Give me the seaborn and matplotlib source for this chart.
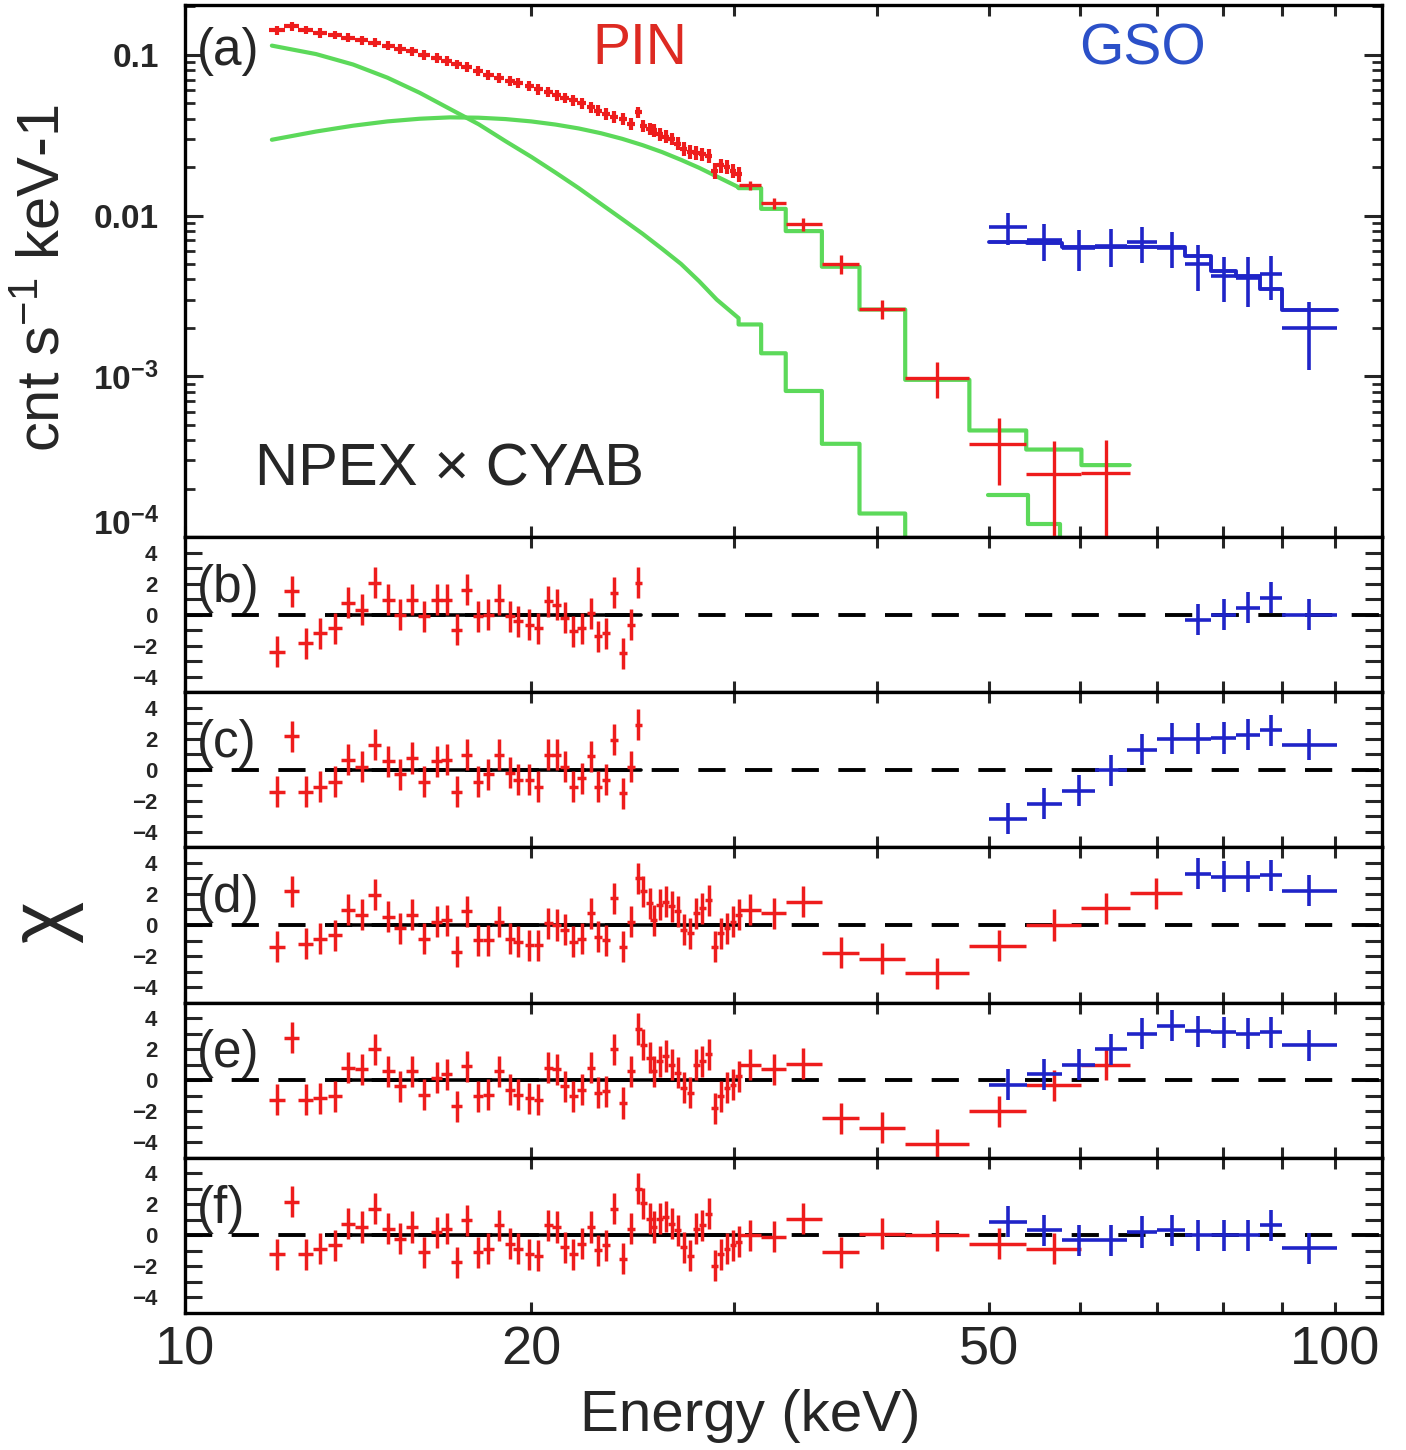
import matplotlib
matplotlib.use("Agg")
import matplotlib.pyplot as plt
import matplotlib.transforms as mtransforms
from matplotlib.ticker import FixedLocator, FixedFormatter, NullLocator, LogLocator, NullFormatter
import seaborn as sns

# ---------------- data ----------------
# PIN fine bins (keV) and panel (a) flux
pin_e = [12.02, 12.38, 12.74, 13.10, 13.50, 13.87, 14.25, 14.63, 15.03, 15.38,
         15.76, 16.14, 16.55, 16.89, 17.23, 17.58, 17.99, 18.36, 18.76, 19.17,
         19.49, 19.93, 20.29, 20.70, 21.05, 21.40, 21.76, 22.13, 22.54, 22.88,
         23.23, 23.61, 24.03, 24.41, 24.79, 25.04, 25.35, 25.56, 25.87, 26.18,
         26.50, 26.83, 27.16, 27.50, 27.83, 28.18, 28.53, 28.88, 29.23, 29.60,
         29.96, 30.30]
pin_flux = [0.142, 0.150, 0.143, 0.137, 0.133, 0.128, 0.123, 0.119, 0.114, 0.109,
            0.105, 0.100, 0.096, 0.092, 0.087, 0.084, 0.079, 0.075, 0.072, 0.069,
            0.067, 0.064, 0.061, 0.059, 0.056, 0.054, 0.052, 0.050, 0.047, 0.045,
            0.043, 0.041, 0.040, 0.037, 0.044, 0.036, 0.0345, 0.034, 0.032, 0.031,
            0.030, 0.028, 0.026, 0.025, 0.0245, 0.024, 0.0235, 0.019, 0.0205, 0.020,
            0.019, 0.018]
pin_flux_err = [0.009, 0.009, 0.009, 0.009, 0.0085, 0.008, 0.008, 0.0075, 0.0075, 0.0072,
                0.007, 0.0068, 0.0065, 0.0063, 0.006, 0.0058, 0.0056, 0.0054, 0.0052, 0.005,
                0.0049, 0.0047, 0.0045, 0.0044, 0.0042, 0.0041, 0.004, 0.0039, 0.0037, 0.0036,
                0.0035, 0.0034, 0.0033, 0.0032, 0.0034, 0.0031, 0.003, 0.003, 0.0029, 0.0028,
                0.0027, 0.0026, 0.0025, 0.0024, 0.0024, 0.0023, 0.0023, 0.0021, 0.0021, 0.002,
                0.002, 0.0019]
pin_halfwidth = 0.19

# PIN wide bins
pin_wide_e = [31.0, 32.5, 34.5, 37.2, 40.4, 45.1, 51.0, 57.0, 63.2, 69.9]
pin_wide_lo = [30.3, 31.7, 33.3, 35.8, 38.6, 42.3, 48.1, 53.9, 60.2, 66.3]
pin_wide_hi = [31.7, 33.3, 35.8, 38.6, 42.3, 48.1, 53.9, 60.2, 66.3, 73.6]
pin_wide_flux = [0.0154, 0.0119, 0.0088, 0.0050, 0.00263, 9.8e-4, 3.8e-4, 2.46e-4, 2.5e-4]
pin_wide_flux_err = [0.0010, 0.0009, 0.0008, 0.0007, 0.00035, 0.00025, 0.00017, 0.00015, 0.00015]

# GSO bins
gso_e = [52.0, 55.9, 59.9, 63.9, 68.0, 72.1, 76.1, 80.1, 84.1, 88.0, 95.0]
gso_lo = [50.0, 54.0, 57.9, 61.9, 66.0, 70.1, 74.1, 78.1, 82.1, 86.0, 89.9]
gso_hi = [54.0, 57.9, 61.9, 66.0, 70.1, 74.1, 78.1, 82.1, 86.0, 89.9, 100.4]
gso_flux = [0.0085, 0.0070, 0.0063, 0.0065, 0.0068, 0.0063, 0.0050, 0.0042, 0.0041, 0.0043, 0.0020]
gso_flux_err = [0.0019, 0.0018, 0.0018, 0.0017, 0.0017, 0.0016, 0.0016, 0.0013, 0.0014, 0.0013, 0.0009]
gso_model = [0.0068, 0.0067, 0.0064, 0.0064, 0.0064, 0.0064, 0.0056, 0.0045, 0.0042, 0.0035, 0.0026]

# model components (green)
comp_e = [11.9, 13.0, 14.0, 15.0, 16.0, 17.0, 18.0, 19.0, 20.0, 21.0,
          22.0, 23.0, 24.0, 25.0, 26.0, 27.0, 28.0, 29.0, 30.3]
steep_v = [0.114, 0.101, 0.087, 0.072, 0.058, 0.046, 0.037, 0.029, 0.0232, 0.0185,
           0.0148, 0.0118, 0.0095, 0.0077, 0.0062, 0.0050, 0.0039, 0.0030, 0.0023]
steep_steps = [0.0021, 0.00139, 8.1e-4, 3.8e-4, 1.4e-4, 5e-5]
hump_v = [0.0296, 0.0333, 0.0362, 0.0385, 0.0400, 0.0408, 0.0406, 0.0398, 0.0385, 0.0368,
          0.0348, 0.0325, 0.0300, 0.0274, 0.0248, 0.0222, 0.0198, 0.0175, 0.0150]
hump_steps = [0.0148, 0.0110, 0.0080, 0.0048, 0.0026, 9.5e-4, 4.6e-4, 3.5e-4, 2.8e-4]
low_lo = [49.9, 54.1, 57.7]
low_hi = [54.1, 57.7, 61.9]
low_v = [1.82e-4, 1.2e-4, 5e-5]

# residuals (chi)
res_b = [-2.38, 1.5, -1.84, -1.2, -0.87, 0.76, 0.32, 2.06, 0.97, 0.0, 0.97, -0.1, 0.97, 0.97,
         -0.97, 1.6, -0.1, 0.0, 0.97, -0.1, -0.43, -0.65, -0.87, 0.87, 0.65, -0.2, -1.08,
         -0.87, 0.1, -1.4, -1.2, 1.4, -2.5, -0.65, 2.06]
res_c = [-1.4, 2.16, -1.4, -1.08, -0.76, 0.65, 0.2, 1.6, 0.54, -0.3, 0.76, -0.76, 0.54, 0.65,
         -1.4, 0.97, -0.76, -0.3, 0.97, -0.2, -0.65, -0.65, -1.08, 0.97, 0.97, 0.2, -1.08,
         -0.54, 0.87, -1.08, -0.65, 1.95, -1.5, 0.2, 2.9]
res_d = [-1.4, 2.16, -1.2, -0.87, -0.65, 0.97, 0.65, 1.95, 0.54, -0.2, 0.65, -0.87, 0.2, 0.32,
         -1.73, 0.87, -0.97, -0.97, 0.2, -0.87, -1.08, -1.3, -1.3, 0.1, 0.0, -0.3, -1.08,
         -0.87, 0.76, -0.76, -0.97, 1.73, -1.4, 0.2, 3.0, 2.16, 1.4, 0.32, 1.3, 1.5, 1.2,
         0.87, -0.32, -0.54, 0.76, 1.08, 1.6, -1.4, -0.54, -0.2, 0.2, 0.65]
res_e = [-1.26, 2.75, -1.26, -1.15, -1.04, 0.8, 0.69, 2.0, 0.58, -0.39, 0.58, -0.93, 0.15, 0.37,
         -1.69, 0.91, -1.04, -0.93, 0.58, -0.61, -0.93, -1.15, -1.26, 0.8, 0.69, -0.39, -1.04,
         -0.61, 0.8, -0.82, -0.71, 2.0, -1.47, 0.58, 3.3, 2.3, 1.45, 0.58, 1.23, 1.56, 1.0,
         0.48, -0.5, -0.82, 1.0, 1.23, 1.67, -1.8, -1.04, -0.5, -0.28, 0.26]
res_f = [-1.2, 2.16, -1.2, -0.87, -0.65, 0.76, 0.54, 1.73, 0.43, -0.2, 0.54, -1.08, 0.2, 0.43,
         -1.73, 0.97, -1.08, -0.87, 0.65, -0.54, -0.87, -1.2, -1.3, 0.65, 0.54, -0.76, -1.2,
         -0.54, 0.54, -0.97, -0.65, 1.73, -1.5, 0.43, 3.0, 2.06, 1.08, 0.54, 1.08, 1.2, 0.76,
         0.32, -0.76, -1.3, 0.43, 0.65, 1.4, -1.95, -1.2, -0.87, -0.65, -0.4]
res_wide_d = [0.97, 0.76, 1.5, -1.8, -2.16, -3.1, -1.34, 0.0, 1.08, 2.06]
res_wide_e = [1.0, 0.7, 1.06, -2.45, -3.05, -4.13, -2.0, -0.32, 1.0]
res_wide_f = [0.0, -0.1, 1.08, -1.08, 0.1, 0.0, -0.54, -0.87]
res_gso_b = [-0.32, 0.0, 0.43, 1.08, 0.0]          # last five GSO bins
res_gso_c = [-3.14, -2.2, -1.34, -0.04, 1.3, 2.0, 2.0, 2.05, 2.27, 2.55, 1.62]
res_gso_d = [3.3, 3.1, 3.1, 3.2, 2.2]               # last five GSO bins
res_gso_e = [-0.28, 0.37, 1.0, 2.0, 3.0, 3.5, 3.15, 3.1, 3.0, 3.1, 2.25]
res_gso_f = [0.87, 0.32, -0.32, -0.32, 0.22, 0.32, 0.0, 0.0, 0.0, 0.65, -0.82]

# ---------------- style ----------------
sns.set_theme(style="ticks")
plt.rcParams['font.family'] = ['Liberation Sans', 'DejaVu Sans']
plt.rcParams['mathtext.fontset'] = 'custom'
plt.rcParams['mathtext.rm'] = 'Liberation Sans'
plt.rcParams['mathtext.it'] = 'Liberation Sans:italic'
plt.rcParams['mathtext.bf'] = 'Liberation Sans:bold'

RED = '#ee1c1c'
BLUE = '#1f24c8'
GREEN = '#5cd95a'
SPINE = 2.4

fig = plt.figure(figsize=(14.06, 14.5), dpi=100)
W, H = 1406.0, 1450.0
left = 185 / W
width = 1197 / W


def style_x(ax, labels):
    ax.set_xscale('log')
    ax.set_xlim(10, 109.9)
    ax.xaxis.set_major_locator(FixedLocator([10, 20, 30, 40, 50, 60, 70, 80, 90, 100]))
    ax.xaxis.set_minor_locator(NullLocator())
    if labels:
        ax.xaxis.set_major_formatter(FixedFormatter(['10', '20', '', '', '50', '', '', '', '', '100']))
    else:
        ax.xaxis.set_major_formatter(NullFormatter())
    ax.tick_params(axis='x', which='major', direction='in', length=8, width=2.2,
                   top=True, bottom=True, labelsize=39, pad=9)
    for s in ax.spines.values():
        s.set_linewidth(SPINE)
        s.set_color('black')


# ---------------- panel (a) ----------------
top_a = 5
bot_a = 537
ax_a = fig.add_axes([left, 1 - bot_a / H, width, (bot_a - top_a) / H])
style_x(ax_a, False)
ax_a.set_yscale('log')
ax_a.set_ylim(1e-4, 0.204)
ax_a.yaxis.set_major_locator(FixedLocator([1e-4, 1e-3, 1e-2, 1e-1]))
ax_a.yaxis.set_major_formatter(FixedFormatter([r'$\mathbf{10^{-4}}$', r'$\mathbf{10^{-3}}$',
                                               '0.01', '0.1']))
ax_a.yaxis.set_minor_locator(LogLocator(base=10, subs=range(2, 10)))
ax_a.yaxis.set_minor_formatter(NullFormatter())
ax_a.tick_params(axis='y', which='major', direction='in', length=13, width=2.2,
                 left=True, right=True, labelsize=24, pad=19)
ax_a.tick_params(axis='y', which='minor', direction='in', length=7, width=2.0,
                 left=True, right=True)
for lab in ax_a.get_yticklabels():
    lab.set_fontweight('bold')
# lift the bottom label so it clears the "4" of panel (b)
lift = mtransforms.ScaledTranslation(0, 11 / 72, fig.dpi_scale_trans)
ax_a.get_yticklabels()[0].set_transform(ax_a.get_yticklabels()[0].get_transform() + lift)


def step_path(lo, hi, vals):
    xs, ys = [], []
    for a, b, v in zip(lo, hi, vals):
        xs += [a, b]
        ys += [v, v]
    return xs, ys


# green model components
sx, sy = step_path(pin_wide_lo, pin_wide_hi, steep_steps)
sns.lineplot(x=comp_e + sx, y=steep_v + sy, sort=False, estimator=None,
             color=GREEN, lw=3.0, ax=ax_a)
hx, hy = step_path(pin_wide_lo, pin_wide_hi, hump_steps)
sns.lineplot(x=comp_e + hx, y=hump_v + hy, sort=False, estimator=None,
             color=GREEN, lw=3.0, ax=ax_a)
lx, ly = step_path(low_lo, low_hi, low_v)
sns.lineplot(x=lx, y=ly, sort=False, estimator=None, color=GREEN, lw=3.0, ax=ax_a)

# PIN data
ax_a.errorbar(pin_e, pin_flux, xerr=pin_halfwidth, yerr=pin_flux_err, fmt='none',
              ecolor=RED, elinewidth=3.0, capsize=0, zorder=4)
nw = len(pin_wide_flux)
ax_a.errorbar(pin_wide_e[:nw], pin_wide_flux,
              xerr=[[c - l for c, l in zip(pin_wide_e[:nw], pin_wide_lo[:nw])],
                    [h - c for c, h in zip(pin_wide_e[:nw], pin_wide_hi[:nw])]],
              yerr=pin_wide_flux_err, fmt='none', ecolor=RED, elinewidth=2.4,
              capsize=0, zorder=4)

# GSO model + data
gx, gy = step_path(gso_lo, gso_hi, gso_model)
sns.lineplot(x=gx, y=gy, sort=False, estimator=None, color=BLUE, lw=2.8, ax=ax_a)
ax_a.errorbar(gso_e, gso_flux,
              xerr=[[c - l for c, l in zip(gso_e, gso_lo)], [h - c for c, h in zip(gso_e, gso_hi)]],
              yerr=gso_flux_err, fmt='none', ecolor=BLUE, elinewidth=2.6, capsize=0, zorder=4)

ax_a.set_xlabel('')
ax_a.set_ylabel('')
ax_a.text(0.010, 0.912, '(a)', transform=ax_a.transAxes, fontsize=37, va='center', ha='left')
ax_a.text(0.380, 0.917, 'PIN', transform=ax_a.transAxes, fontsize=41, va='center',
          ha='center', color='#dd2a22')
ax_a.text(0.7995, 0.917, 'GSO', transform=ax_a.transAxes, fontsize=41, va='center',
          ha='center', color='#2b50c8')
ax_a.text(0.2206, 0.126, 'NPEX \u00d7 CYAB', transform=ax_a.transAxes, fontsize=43,
          va='center', ha='center')

# ---------------- residual panels ----------------
panels = [
    ('(b)', res_b, [], res_gso_b, 6, 24.9),
    ('(c)', res_c, [], res_gso_c, 0, 24.9),
    ('(d)', res_d, res_wide_d, res_gso_d, 6, 30.3),
    ('(e)', res_e, res_wide_e, res_gso_e, 0, 30.3),
    ('(f)', res_f, res_wide_f, res_gso_f, 0, 30.3),
]
ph = 155.2
for k, (tag, fine, wide, gres, g0, solid_end) in enumerate(panels):
    top = bot_a + ph * k
    bot = top + ph
    ax = fig.add_axes([left, 1 - bot / H, width, ph / H])
    style_x(ax, k == len(panels) - 1)
    ax.set_ylim(-5, 5)
    ax.yaxis.set_major_locator(FixedLocator([-4, -2, 0, 2, 4]))
    ax.yaxis.set_major_formatter(FixedFormatter(['\u22124', '\u22122', '0', '2', '4']))
    ax.yaxis.set_minor_locator(FixedLocator([-3, -1, 1, 3]))
    ax.tick_params(axis='y', which='both', direction='in', length=12, width=2.2,
                   left=True, right=True, labelsize=16, pad=20)
    for lab in ax.get_yticklabels():
        lab.set_fontweight('bold')

    ax.axhline(0, color='black', lw=2.8, ls=(0, (7, 5)), zorder=1)
    sns.lineplot(x=[13.4, solid_end], y=[0, 0], color='black', lw=2.6, ax=ax, zorder=1)

    n = len(fine)
    ax.errorbar(pin_e[:n], fine, xerr=pin_halfwidth, yerr=1.0, fmt='none',
                ecolor=RED, elinewidth=2.5, capsize=0, zorder=3)
    if wide:
        m = len(wide)
        ax.errorbar(pin_wide_e[:m], wide,
                    xerr=[[c - l for c, l in zip(pin_wide_e[:m], pin_wide_lo[:m])],
                          [h - c for c, h in zip(pin_wide_e[:m], pin_wide_hi[:m])]],
                    yerr=1.0, fmt='none', ecolor=RED, elinewidth=2.5, capsize=0, zorder=3)
    ge = gso_e[g0:]
    ax.errorbar(ge, gres,
                xerr=[[c - l for c, l in zip(ge, gso_lo[g0:])],
                      [h - c for c, h in zip(ge, gso_hi[g0:])]],
                yerr=1.0, fmt='none', ecolor=BLUE, elinewidth=2.6, capsize=0, zorder=3)
    ax.set_xlabel('')
    ax.set_ylabel('')
    ax.text(0.010, 0.67, tag, transform=ax.transAxes, fontsize=37, va='center', ha='left')

# ---------------- axis titles ----------------
fig.text(45 / W, 1 - 278 / H, 'cnt s$^{-1}$ keV-1', rotation=90, fontsize=43,
         ha='center', va='center')
fig.text(45 / W, 1 - 922 / H, '\u03c7', rotation=90, fontsize=58, ha='center', va='center')
fig.text(750 / W, 1 - 1416 / H, 'Energy (keV)', fontsize=42, ha='center', va='center')

fig.savefig('out.png', dpi=100)
